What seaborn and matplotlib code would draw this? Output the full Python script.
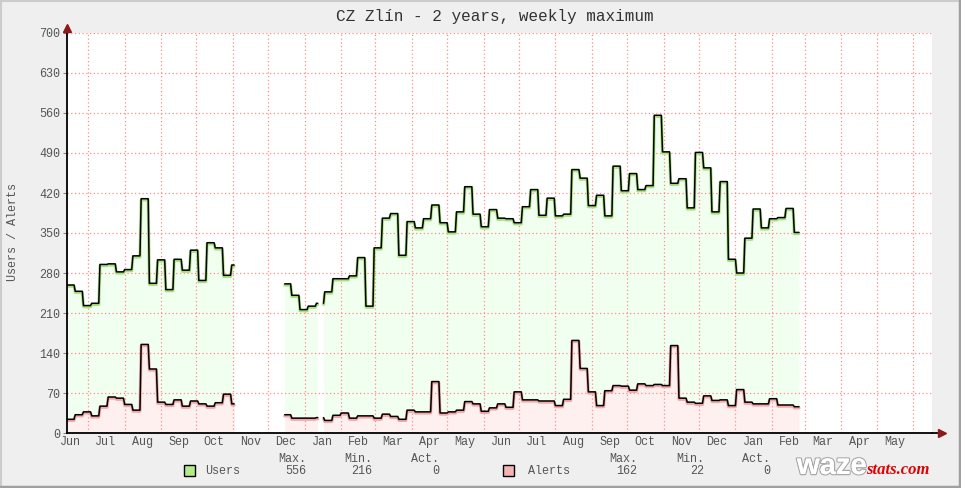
import numpy as np
import pandas as pd
import matplotlib
matplotlib.use("Agg")
import matplotlib.pyplot as plt
import matplotlib.dates as mdates
import matplotlib.transforms as mtransforms
import matplotlib.patheffects as pe
from matplotlib.patches import Rectangle
from matplotlib.lines import Line2D
from matplotlib.ticker import FixedLocator
import seaborn as sns

# ---------------- data ----------------
title = "CZ Zlín - 2 years, weekly maximum"
y_label = "Users / Alerts"
x_start, x_end = "2023-06-13", "2025-06-17"

# period 1 (weekly, first week starts 2023-06-13)
p1_week0 = "2023-06-13"
p1_start, p1_end = "2023-06-13", "2023-11-02"
users_p1 = [259, 248, 223, 227, 295, 296, 282, 286, 310, 410, 262, 303, 251, 304,
            285, 320, 267, 333, 324, 276, 294]
alerts_p1 = [24, 32, 37, 30, 47, 63, 61, 50, 40, 155, 112, 54, 50, 58, 47, 56, 51,
             47, 53, 68, 51]

# period 2 (weekly, first week starts 2023-12-14)
p2_week0 = "2023-12-14"
p2_start, p2_end = "2023-12-15", "2025-02-24"
p2_gaps = [("2024-01-13", "2024-01-16")]
users_p2 = [261, 241, 216, 222, 227, 247, 270, 270, 275, 307, 222, 324, 376, 384,
            311, 370, 359, 375, 399, 368, 352, 387, 431, 383, 361, 391, 376, 375,
            368, 396, 426, 381, 411, 380, 383, 461, 446, 398, 416, 380, 467, 424,
            454, 426, 433, 556, 492, 437, 445, 394, 491, 464, 387, 440, 304, 280,
            341, 392, 359, 375, 377, 393, 351]
alerts_p2 = [32, 26, 26, 26, 27, 22, 31, 35, 26, 30, 30, 26, 33, 29, 24, 40, 37,
             37, 90, 35, 37, 40, 55, 51, 38, 44, 51, 45, 72, 58, 58, 56, 56, 48,
             59, 162, 113, 72, 48, 74, 83, 82, 75, 86, 83, 85, 83, 153, 61, 54,
             52, 65, 57, 58, 48, 76, 54, 51, 51, 60, 49, 49, 46]

y_ticks = list(range(0, 701, 70))

legend_rows = [
    ("Users", "556", "216", "0"),
    ("Alerts", "162", "22", "0"),
]

# colours
c_users_fill = "#f0fff0"
c_alerts_fill = "#fff0f0"
c_users_line = "#a8e080"
c_alerts_line = "#f0a8a8"
c_users_box = "#b4ec8c"
c_alerts_box = "#f4b4b4"
c_grid = "#ff8c8c"
c_arrow = "#8b1a1a"
c_text = "#555555"


def expand(week0, start, end, users, alerts, gaps=()):
    days = pd.date_range(start, end, freq="D")
    idx = (days - pd.Timestamp(week0)).days // 7
    df = pd.DataFrame({"date": days,
                       "users": np.asarray(users, float)[idx],
                       "alerts": np.asarray(alerts, float)[idx]})
    seg = np.zeros(len(days), int)
    keep = np.ones(len(days), bool)
    for g0, g1 in gaps:
        m = (days >= pd.Timestamp(g0)) & (days <= pd.Timestamp(g1))
        keep &= ~m
        seg += (days > pd.Timestamp(g1)).astype(int)
    df["seg"] = seg
    return df[keep]


d1 = expand(p1_week0, p1_start, p1_end, users_p1, alerts_p1)
d1["seg"] = "a" + d1["seg"].astype(str)
d2 = expand(p2_week0, p2_start, p2_end, users_p2, alerts_p2, p2_gaps)
d2["seg"] = "b" + d2["seg"].astype(str)
df = pd.concat([d1, d2], ignore_index=True)

# ---------------- figure ----------------
sns.set_theme(style="white")
plt.rcParams["font.family"] = ["Liberation Mono", "DejaVu Sans Mono"]

W, H = 961, 488
fig = plt.figure(figsize=(W / 100, H / 100), dpi=100, facecolor="#efefef")
ax = fig.add_axes([67 / W, (H - 433) / H, 865 / W, 400 / H])
ax.set_facecolor("white")

# fills
for s, g in df.groupby("seg"):
    ax.fill_between(g["date"], 0, g["users"], color=c_users_fill, lw=0, zorder=1)
for s, g in df.groupby("seg"):
    ax.fill_between(g["date"], 0, g["alerts"], color=c_alerts_fill, lw=0, zorder=1.1)

shadow = mtransforms.offset_copy(ax.transData, fig=fig, x=0, y=-1.2, units="dots")
sns.lineplot(data=df, x="date", y="users", units="seg", estimator=None, ax=ax,
             color=c_users_line, linewidth=2.2, transform=shadow, legend=False, zorder=3)
sns.lineplot(data=df, x="date", y="alerts", units="seg", estimator=None, ax=ax,
             color=c_alerts_line, linewidth=2.2, transform=shadow, legend=False, zorder=3)
sns.lineplot(data=df, x="date", y="users", units="seg", estimator=None, ax=ax,
             color="black", linewidth=1.1, legend=False, zorder=4)
sns.lineplot(data=df, x="date", y="alerts", units="seg", estimator=None, ax=ax,
             color="black", linewidth=1.1, legend=False, zorder=4)

x0, x1 = pd.Timestamp(x_start), pd.Timestamp(x_end)
ax.set_xlim(x0, x1)
ax.set_ylim(0, 700)
ax.set_xlabel("")
ax.set_ylabel("")

# axes / grid
ax.xaxis.set_major_locator(mdates.MonthLocator())
ax.xaxis.set_major_formatter(plt.NullFormatter())
label_days = [d for d in pd.date_range(x0 - pd.Timedelta(days=20), x1, freq="MS") + pd.Timedelta(days=15)
              if x0 <= d and d + pd.Timedelta(days=10) < x1]
ax.xaxis.set_minor_locator(FixedLocator(mdates.date2num(label_days)))
ax.xaxis.set_minor_formatter(mdates.DateFormatter("%b"))
ax.set_yticks(y_ticks)
ax.set_yticklabels([str(v) for v in y_ticks])
ax.grid(True, which="major", color=c_grid, linestyle=(0, (1, 2)), linewidth=0.9, zorder=2)
ax.set_axisbelow(False)
for gl in ax.get_xgridlines() + ax.get_ygridlines():
    gl.set_zorder(2)
ax.tick_params(axis="x", which="major", length=4, width=0.8, color=c_grid, direction="out")
ax.tick_params(axis="x", which="minor", length=0, labelsize=8.5, labelcolor=c_text, pad=2)
ax.tick_params(axis="y", which="major", length=3, width=0.8, color="#888888",
               labelsize=8.5, labelcolor=c_text, pad=2, left=True)

for side in ("top", "right"):
    ax.spines[side].set_visible(False)
for side in ("left", "bottom"):
    ax.spines[side].set_color("black")
    ax.spines[side].set_linewidth(1.3)
    ax.spines[side].set_zorder(5)

# arrows
ax.plot([1.0, 1.008], [0, 0], transform=ax.transAxes, color="black", lw=1.3, clip_on=False, zorder=5)
ax.plot([1.0115], [0], transform=ax.transAxes, marker=">", color=c_arrow, markersize=6,
        clip_on=False, zorder=6)
ax.plot([0], [1.012], transform=ax.transAxes, marker="^", color=c_arrow, markersize=6,
        clip_on=False, zorder=6)

# texts
fig.text(495 / W, 1 - 16 / H, title, ha="center", va="center", fontsize=11.5, color="#333333")
fig.text(13 / W, 1 - 232 / H, y_label, ha="center", va="center", rotation=90,
         fontsize=8.5, color=c_text)

# legend
legend_layout = [(184, 205, 306, 372, 439), (503, 528, 637, 704, 770)]
box_colors = [c_users_box, c_alerts_box]
for (name, mx, mn, act), (bx, tx, r1, r2, r3), bc in zip(legend_rows, legend_layout, box_colors):
    fig.patches.append(Rectangle((bx / W, 1 - 476 / H), 11 / W, 11 / H, transform=fig.transFigure,
                                 facecolor=bc, edgecolor="black", lw=1.0))
    fig.text(tx / W, 1 - 470.5 / H, name, ha="left", va="center", fontsize=8.5, color=c_text)
    for r, head, val in zip((r1, r2, r3), ("Max.", "Min.", "Act."), (mx, mn, act)):
        fig.text(r / W, 1 - 459 / H, head, ha="right", va="center", fontsize=8.5, color=c_text)
        fig.text(r / W, 1 - 470.5 / H, val, ha="right", va="center", fontsize=8.5, color=c_text)

# logo
fig.text(797 / W, 1 - 474 / H, "waze", ha="left", va="baseline", fontsize=21,
         family="Liberation Sans", weight="bold", color="white",
         path_effects=[pe.withStroke(linewidth=1.8, foreground="#a8a8a8"), pe.Normal()])
fig.text(866 / W, 1 - 474 / H, "stats.com", ha="left", va="baseline", fontsize=12,
         family="Liberation Serif", weight="bold", style="italic", color="#e00000")

# frame border
fig.add_artist(Line2D([0, 1], [1 - 1 / H, 1 - 1 / H], transform=fig.transFigure, color="#cccccc", lw=1.5))
fig.add_artist(Line2D([1 / W, 1 / W], [0, 1], transform=fig.transFigure, color="#cccccc", lw=1.5))
fig.add_artist(Line2D([0, 1], [1.5 / H, 1.5 / H], transform=fig.transFigure, color="#a0a0a0", lw=2.5))
fig.add_artist(Line2D([1 - 1.5 / W, 1 - 1.5 / W], [0, 1], transform=fig.transFigure, color="#a0a0a0", lw=2.5))

fig.savefig("out.png", dpi=100, facecolor=fig.get_facecolor())
